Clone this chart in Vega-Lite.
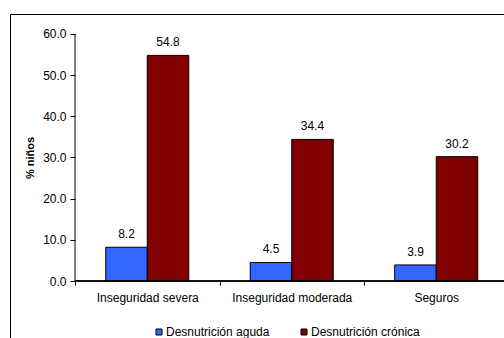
{
  "$schema": "https://vega.github.io/schema/vega-lite/v6.json",
  "autosize": {"type": "none"},
  "width": 494,
  "height": 324,
  "padding": {"left": 10, "top": 14, "right": 0, "bottom": 0},
  "background": "white",
  "view": {"stroke": "black", "strokeWidth": 1},
  "config": {
    "font": "Liberation Sans",
    "axis": {
      "grid": false,
      "labelColor": "black",
      "labelFontSize": 12,
      "tickColor": "black",
      "titleColor": "black",
      "domain": false
    },
    "legend": {"labelColor": "black"}
  },
  "data": {
    "values": [
      {"grupo": "Inseguridad severa", "tipo": "Desnutrición aguda", "pct": 8.2},
      {"grupo": "Inseguridad severa", "tipo": "Desnutrición crónica", "pct": 54.8},
      {"grupo": "Inseguridad moderada", "tipo": "Desnutrición aguda", "pct": 4.5},
      {"grupo": "Inseguridad moderada", "tipo": "Desnutrición crónica", "pct": 34.4},
      {"grupo": "Seguros", "tipo": "Desnutrición aguda", "pct": 3.9},
      {"grupo": "Seguros", "tipo": "Desnutrición crónica", "pct": 30.2}
    ]
  },
  "layer": [
    {
      "mark": {"type": "bar", "stroke": "black", "strokeWidth": 1},
      "encoding": {
        "x": {
          "field": "grupo",
          "type": "nominal",
          "sort": ["Inseguridad severa", "Inseguridad moderada", "Seguros"],
          "scale": {"type": "band", "paddingInner": 0, "paddingOuter": 0.45, "range": [0, 563.5]},
          "axis": {
            "title": null,
            "labelAngle": 0,
            "tickBand": "extent",
            "tickSize": 4,
            "labelPadding": 7,
            "offset": -57
          }
        },
        "xOffset": {
          "field": "tipo",
          "type": "nominal",
          "sort": ["Desnutrición aguda", "Desnutrición crónica"],
          "scale": {"paddingInner": 0, "paddingOuter": 0.74}
        },
        "y": {
          "field": "pct",
          "type": "quantitative",
          "scale": {"domain": [-13.846, 64.858], "nice": false, "zero": false},
          "axis": {
            "title": "% niños",
            "values": [0, 10, 20, 30, 40, 50, 60],
            "format": ".1f",
            "offset": -65,
            "tickSize": 5,
            "labelPadding": 4,
            "titlePadding": 7,
            "titleFontWeight": "bold",
            "titleFontSize": 11,
            "titleY": 143.5
          }
        },
        "y2": {"datum": 0},
        "color": {
          "field": "tipo",
          "type": "nominal",
          "scale": {
            "domain": ["Desnutrición aguda", "Desnutrición crónica"],
            "range": ["#3366FF", "#800000"]
          },
          "legend": {
            "orient": "none",
            "legendX": 143,
            "legendY": 312,
            "direction": "horizontal",
            "title": null,
            "symbolType": "square",
            "symbolSize": 36,
            "symbolStrokeColor": "black",
            "symbolStrokeWidth": 1,
            "labelFontSize": 12,
            "labelOffset": 1,
            "columnPadding": 28,
            "padding": 0
          }
        }
      }
    },
    {
      "mark": {"type": "text", "fontSize": 12, "baseline": "alphabetic", "dy": -9, "color": "black"},
      "encoding": {
        "x": {"field": "grupo", "type": "nominal", "sort": ["Inseguridad severa", "Inseguridad moderada", "Seguros"]},
        "xOffset": {"field": "tipo", "type": "nominal", "sort": ["Desnutrición aguda", "Desnutrición crónica"]},
        "y": {"field": "pct", "type": "quantitative"},
        "text": {"field": "pct", "type": "quantitative", "format": ".1f"}
      }
    },
    {
      "mark": {"type": "rect", "stroke": "black", "strokeWidth": 1, "fill": "black"},
      "encoding": {
        "x": {"field": "grupo", "type": "nominal", "sort": ["Inseguridad severa", "Inseguridad moderada", "Seguros"]},
        "y": {"datum": 0},
        "y2": {"datum": 0}
      }
    },
    {
      "transform": [{"filter": "datum.grupo === 'Inseguridad severa' && datum.tipo === 'Desnutrición aguda'"}],
      "mark": {"type": "rule", "color": "black", "strokeWidth": 1},
      "encoding": {
        "x": {"field": "grupo", "type": "nominal", "bandPosition": 0, "sort": ["Inseguridad severa", "Inseguridad moderada", "Seguros"]},
        "y": {"datum": 0},
        "y2": {"datum": 60}
      }
    }
  ]
}
